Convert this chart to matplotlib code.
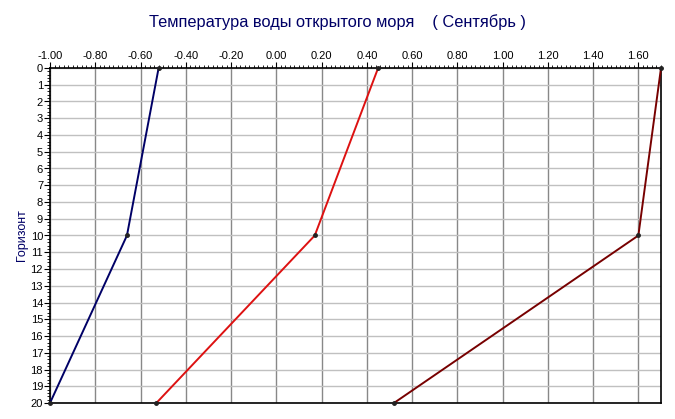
import matplotlib
matplotlib.use('Agg')
import matplotlib.pyplot as plt
from matplotlib.ticker import MultipleLocator, FormatStrFormatter

plt.rcParams['font.family'] = ['Liberation Sans', 'DejaVu Sans']

# горизонты и температуры
depth = [0, 10, 20]
temp_blue = [-0.52, -0.66, -1.00]
temp_red = [0.45, 0.17, -0.53]
temp_dark = [1.70, 1.60, 0.52]

series = [
    (temp_blue, '#000066'),
    (temp_red, '#dd1111'),
    (temp_dark, '#770000'),
]

fig = plt.figure(figsize=(6.75, 4.19), dpi=100)
ax = fig.add_axes([50 / 675, 1 - 403 / 419, 611 / 675, 335 / 419])

for vals, col in series:
    ax.plot(vals, depth, color=col, lw=1.4, zorder=3, clip_on=False)
    ax.plot(vals, depth, 'o', color='#222222', ms=2.5, zorder=4, clip_on=False)

ax.set_xlim(-1.0, 1.70)
ax.set_ylim(20, 0)

ax.xaxis.set_major_locator(MultipleLocator(0.2))
ax.xaxis.set_minor_locator(MultipleLocator(0.02))
ax.xaxis.set_major_formatter(FormatStrFormatter('%.2f'))
ax.yaxis.set_major_locator(MultipleLocator(1))
ax.yaxis.set_minor_locator(MultipleLocator(0.2))

ax.xaxis.tick_top()
ax.tick_params(axis='both', which='major', labelsize=8, length=4, width=0.8, pad=1)
ax.tick_params(axis='both', which='minor', length=2, width=0.6)

ax.grid(axis='x', which='major', color='#888888', lw=1)
ax.grid(axis='y', which='major', color='#c0c0c0', lw=1)
ax.set_axisbelow(True)

for sp in ax.spines.values():
    sp.set_linewidth(1.2)

ax.set_ylabel('Горизонт', color='#000066', fontsize=9, labelpad=2)
fig.text(0.5, 0.948, 'Температура воды открытого моря    ( Сентябрь )',
         ha='center', va='center', fontsize=11.8, color='#000066')

fig.savefig('out.png', dpi=100)
